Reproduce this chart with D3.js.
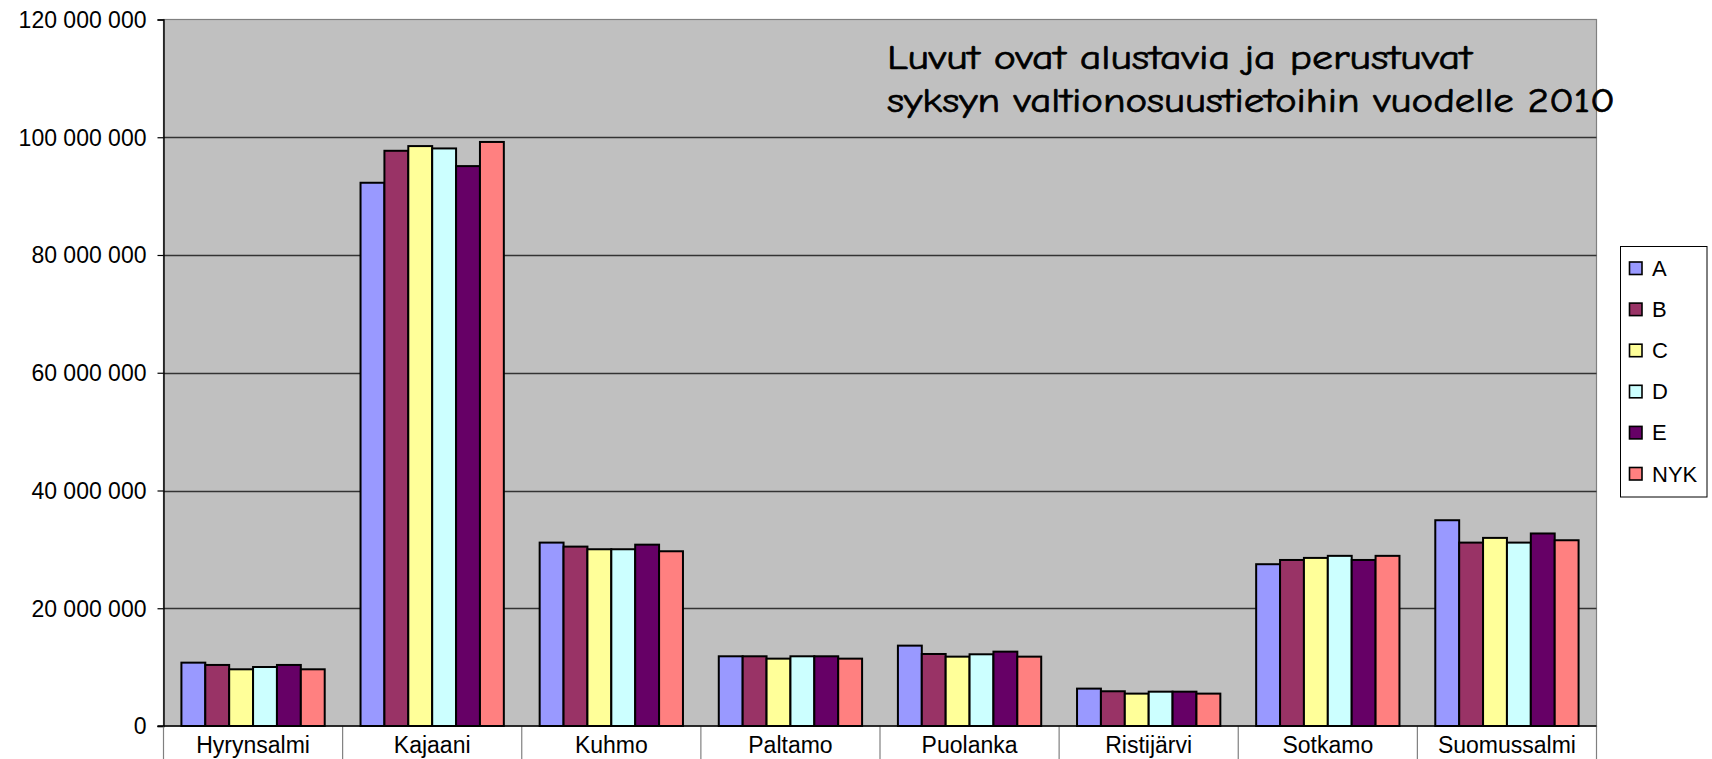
<!DOCTYPE html>
<html>
<head>
<meta charset="utf-8">
<script src="https://cdn.jsdelivr.net/npm/d3@7"></script>
<style>
  html, body { margin: 0; padding: 0; background: #ffffff; }
  svg { display: block; }
</style>
</head>
<body>
<svg id="chart" width="1712" height="759"></svg>
<script>
// ---- data ----
const categories = ["Hyrynsalmi", "Kajaani", "Kuhmo", "Paltamo", "Puolanka", "Ristijärvi", "Sotkamo", "Suomussalmi"];
const seriesNames = ["A", "B", "C", "D", "E", "NYK"];
const seriesA   = [10760000, 92270000, 31150000, 11840000, 13650000, 6350000, 27480000, 34950000];
const seriesB   = [10370000, 97700000, 30470000, 11840000, 12230000, 5900000, 28200000, 31150000];
const seriesC   = [ 9630000, 98500000, 30020000, 11440000, 11780000, 5500000, 28550000, 31950000];
const seriesD   = [10020000, 98100000, 30020000, 11840000, 12180000, 5830000, 28900000, 31150000];
const seriesE   = [10370000, 95100000, 30800000, 11840000, 12630000, 5830000, 28200000, 32700000];
const seriesNYK = [ 9630000, 99200000, 29680000, 11440000, 11780000, 5500000, 28900000, 31550000];
const yTickValues = [0, 20000000, 40000000, 60000000, 80000000, 100000000, 120000000];
const yTickLabels = ["0", "20 000 000", "40 000 000", "60 000 000", "80 000 000", "100 000 000", "120 000 000"];
const titleLines = ["Luvut ovat alustavia ja perustuvat", "syksyn valtionosuustietoihin vuodelle 2010"];

const seriesValues = [seriesA, seriesB, seriesC, seriesD, seriesE, seriesNYK];
const colors = ["#9999FF", "#993366", "#FFFF99", "#CCFFFF", "#660066", "#FF8080"];

// ---- layout ----
const plot = { left: 163.5, right: 1596.5, top: 19.5, bottom: 726 };
const svg = d3.select("#chart");
const font = "'Liberation Sans', Arial, sans-serif";

const x = d3.scaleBand().domain(categories).range([plot.left, plot.right]).paddingInner(0).paddingOuter(0);
const y = d3.scaleLinear().domain([0, 120000000]).range([plot.bottom, plot.top]);

// plot background
svg.append("rect")
  .attr("x", plot.left).attr("y", plot.top)
  .attr("width", plot.right - plot.left).attr("height", plot.bottom - plot.top)
  .attr("fill", "#C0C0C0").attr("stroke", "#808080").attr("stroke-width", 1.2);

// gridlines
svg.append("g").selectAll("line")
  .data(yTickValues.filter(v => v > 0 && v < 120000000))
  .join("line")
  .attr("x1", plot.left).attr("x2", plot.right)
  .attr("y1", d => Math.round(y(d)) + 0.5).attr("y2", d => Math.round(y(d)) + 0.5)
  .attr("stroke", "#333333").attr("stroke-width", 1.3);

// bars
const groupW = x.bandwidth();
const barW = groupW / 7.5;
const xs = d3.scaleBand().domain(seriesNames).range([0.75 * barW, 0.75 * barW + 6 * barW]).padding(0);

const barData = [];
seriesNames.forEach((s, si) => {
  categories.forEach((c, ci) => {
    barData.push({ s, c, v: seriesValues[si][ci], color: colors[si] });
  });
});
svg.append("g").selectAll("rect")
  .data(barData)
  .join("rect")
  .attr("x", d => x(d.c) + xs(d.s))
  .attr("y", d => y(d.v))
  .attr("width", xs.bandwidth())
  .attr("height", d => y(0) - y(d.v))
  .attr("fill", d => d.color)
  .attr("stroke", "#000")
  .attr("stroke-width", 2);

// y axis
const yAxis = d3.axisLeft(y).tickValues(yTickValues).tickSize(6)
  .tickFormat((d, i) => yTickLabels[i]);
const gy = svg.append("g").attr("transform", `translate(${plot.left},0)`).call(yAxis);
gy.select(".domain").attr("stroke", "#000").attr("stroke-width", 1.4);
gy.selectAll(".tick line").attr("stroke", "#000").attr("stroke-width", 1.2);
gy.selectAll(".tick text")
  .attr("font-family", font).attr("font-size", 23).attr("fill", "#000")
  .attr("x", -17).attr("dy", "0.34em");

// x axis (category separators below the axis)
const xAxis = d3.axisBottom(x).tickSize(0).tickPadding(12);
const gx = svg.append("g").attr("transform", `translate(0,${plot.bottom})`).call(xAxis);
gx.select(".domain").remove();
gx.selectAll(".tick text")
  .attr("font-family", font).attr("font-size", 23).attr("fill", "#000")
  .attr("dy", "0.71em").attr("y", 11);
svg.append("g").selectAll("line")
  .data(categories.concat(["__end"]))
  .join("line")
  .attr("x1", d => d === "__end" ? plot.right : x(d))
  .attr("x2", d => d === "__end" ? plot.right : x(d))
  .attr("y1", plot.bottom).attr("y2", 759)
  .attr("stroke", "#808080").attr("stroke-width", 1.2);
svg.append("line")
  .attr("x1", plot.left - 6).attr("x2", plot.right)
  .attr("y1", plot.bottom).attr("y2", plot.bottom)
  .attr("stroke", "#000").attr("stroke-width", 1.4);

// title annotation
const titleG = svg.append("g")
  .attr("font-family", "'Comic Sans MS', 'Comic Neue', 'DejaVu Sans', sans-serif")
  .attr("font-size", 34).attr("fill", "#000")
  .attr("stroke", "#000").attr("stroke-width", 0.7);
const titleWidths = [585, 728];
titleLines.forEach((t, i) => {
  titleG.append("text")
    .attr("x", 887).attr("y", 69 + i * 43)
    .attr("textLength", titleWidths[i]).attr("lengthAdjust", "spacingAndGlyphs")
    .text(t);
});

// legend
const legend = svg.append("g");
legend.append("rect")
  .attr("x", 1620.5).attr("y", 246.5).attr("width", 86.5).attr("height", 250.5)
  .attr("fill", "#fff").attr("stroke", "#000").attr("stroke-width", 1);
const ly = d3.scalePoint().domain(seriesNames).range([268.5, 474]);
const items = legend.selectAll("g.item").data(seriesNames).join("g").attr("class", "item");
items.append("rect")
  .attr("x", 1629.5).attr("y", d => ly(d) - 6.5)
  .attr("width", 12.5).attr("height", 12.5)
  .attr("fill", (d, i) => colors[i]).attr("stroke", "#000").attr("stroke-width", 1.6);
items.append("text")
  .attr("x", 1652).attr("y", d => ly(d) + 7.5)
  .attr("font-family", font).attr("font-size", 22).attr("fill", "#000")
  .text(d => d);
</script>
</body>
</html>
